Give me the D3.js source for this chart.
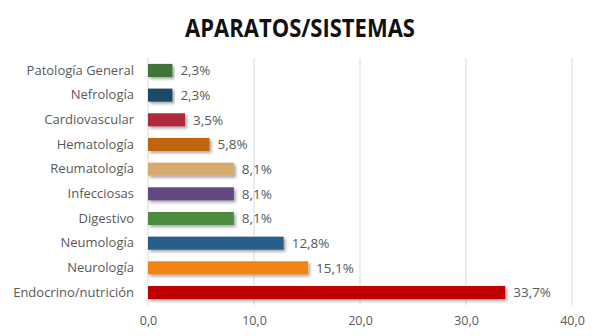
<!DOCTYPE html>
<html>
<head>
<meta charset="utf-8">
<script src="https://cdn.jsdelivr.net/npm/d3@7"></script>
<style>
	body { margin: 0; background: #fff; }
	svg { display: block; font-family: "Open Sans", "Noto Sans", sans-serif; }
</style>
</head>
<body>
<svg id="chart" width="597" height="336"></svg>
<script>
const categories = ["Patología General", "Nefrología", "Cardiovascular", "Hematología", "Reumatología",
	"Infecciosas", "Digestivo", "Neumología", "Neurología", "Endocrino/nutrición"];
const values = [2.3, 2.3, 3.5, 5.8, 8.1, 8.1, 8.1, 12.8, 15.1, 33.7];
const colors = ["#3f7537", "#1c4a68", "#b02a3e", "#c0650c", "#d6aa6c", "#634780", "#4d8b3f", "#255f8c", "#f28413", "#c00000"];
const xTicks = [0, 10, 20, 30, 40];

const svg = d3.select("#chart");
const margin = { top: 58, right: 25, bottom: 31, left: 148 };
const W = 597, H = 336;
const innerW = W - margin.left - margin.right;
const innerH = H - margin.top - margin.bottom;

const fmt = v => v.toFixed(1).replace(".", ",");

const defs = svg.append("defs");
const shadow = defs.append("filter").attr("id", "shadow")
	.attr("x", "-5%").attr("y", "-30%").attr("width", "115%").attr("height", "180%");
shadow.append("feDropShadow")
	.attr("dx", 2).attr("dy", 2).attr("stdDeviation", 1.5)
	.attr("flood-color", "#000").attr("flood-opacity", 0.35);

// title, stretched a little vertically to mimic the narrow original face
svg.append("text")
	.attr("transform", "translate(300, 37) scale(1, 1.14)")
	.attr("text-anchor", "middle")
	.attr("font-size", "22px")
	.attr("font-weight", "bold")
	.attr("fill", "#111")
	.text("APARATOS/SISTEMAS");

const g = svg.append("g").attr("transform", `translate(${margin.left}, ${margin.top})`);

const x = d3.scaleLinear().domain([0, 40]).range([0, 424]);
const y = d3.scaleBand().domain(categories).range([0, innerH]).paddingInner(0.47).paddingOuter(0.24);

// gridlines
g.append("g").selectAll("line").data(xTicks).join("line")
	.attr("x1", d => x(d)).attr("x2", d => x(d))
	.attr("y1", 0).attr("y2", innerH)
	.attr("stroke", "#d9d9d9").attr("stroke-width", 1);

// x axis labels
const xAxis = g.append("g").attr("transform", `translate(0, ${innerH})`)
	.call(d3.axisBottom(x).tickValues(xTicks).tickFormat(fmt).tickSize(0).tickPadding(11));
xAxis.select(".domain").remove();
xAxis.selectAll("text").attr("font-size", "12.5px").attr("fill", "#595959").attr("font-family", "'Open Sans', sans-serif");

// y labels
const yAxis = g.append("g")
	.call(d3.axisLeft(y).tickSize(0).tickPadding(14));
yAxis.select(".domain").remove();
yAxis.selectAll("text").attr("font-size", "13px").attr("fill", "#595959").attr("font-family", "'Open Sans', sans-serif");

// bars
g.append("g").selectAll("rect").data(values).join("rect")
	.attr("x", x(0))
	.attr("y", (d, i) => y(categories[i]))
	.attr("width", d => x(d) - x(0))
	.attr("height", y.bandwidth())
	.attr("fill", (d, i) => colors[i])
	.attr("filter", "url(#shadow)");

// value labels
g.append("g").selectAll("text").data(values).join("text")
	.attr("x", d => x(d) + 8)
	.attr("y", (d, i) => y(categories[i]) + y.bandwidth() / 2)
	.attr("dy", "0.35em")
	.attr("font-size", "13.5px")
	.attr("fill", "#595959")
	.text(d => fmt(d) + "%");
</script>
</body>
</html>
